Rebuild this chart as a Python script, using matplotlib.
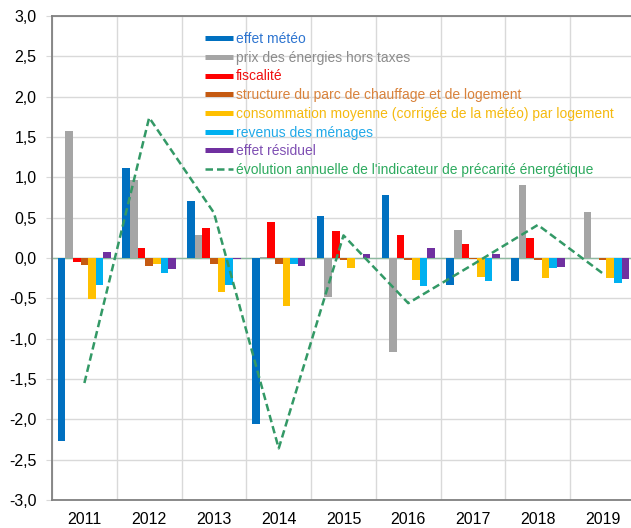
import matplotlib
matplotlib.use("Agg")
import matplotlib.pyplot as plt
from matplotlib.lines import Line2D
import numpy as np

plt.rcParams['font.family'] = ['Liberation Sans', 'DejaVu Sans']

years = ["2011", "2012", "2013", "2014", "2015", "2016", "2017", "2018", "2019"]

effet_meteo   = [-2.27, 1.11, 0.71, -2.06, 0.52, 0.78, -0.34, -0.29, 0.00]
prix_ht       = [1.57, 0.97, 0.28, 0.01, -0.48, -1.16, 0.35, 0.90, 0.57]
fiscalite     = [-0.05, 0.13, 0.37, 0.45, 0.34, 0.29, 0.17, 0.25, 0.00]
structure     = [-0.09, -0.10, -0.08, -0.07, -0.03, -0.02, -0.01, -0.02, -0.02]
consommation  = [-0.51, -0.08, -0.42, -0.60, -0.12, -0.27, -0.24, -0.25, -0.25]
revenus       = [-0.33, -0.19, -0.34, -0.07, 0.00, -0.35, -0.28, -0.13, -0.31]
residuel      = [0.08, -0.14, -0.01, -0.10, 0.05, 0.12, 0.05, -0.11, -0.26]
indicateur    = [-1.55, 1.74, 0.56, -2.36, 0.28, -0.56, -0.08, 0.41, -0.19]

labels = ["effet météo",
          "prix des énergies hors taxes",
          "fiscalité",
          "structure du parc de chauffage et de logement",
          "consommation moyenne (corrigée de la météo) par logement",
          "revenus des ménages",
          "effet résiduel",
          "évolution annuelle de l'indicateur de précarité énergétique"]

series = [effet_meteo, prix_ht, fiscalite, structure, consommation, revenus, residuel]
bar_colors = ['#0070C0', '#A5A5A5', '#FF0000', '#C55A11', '#FFC000', '#00B0F0', '#7030A0']
text_colors = ['#2E75D0', '#8C8C8C', '#F01010', '#D9823B', '#F5BA10', '#21A9E8', '#7F4FB3', '#2EAA5F']
line_color = '#339966'

fig = plt.figure(figsize=(6.31, 5.28), dpi=100)
ax = fig.add_axes([52/631, 28/528, 583/631, 484/528])

x = np.arange(len(years))
w = 0.118
for i, (vals, c) in enumerate(zip(series, bar_colors)):
    ax.bar(x + (i - 3) * w, vals, width=w, color=c, zorder=3)

ax.axhline(0, color='#8DB9A0', lw=1.0, zorder=2)
ax.plot(x, indicateur, color=line_color, lw=1.8, ls=(0, (3, 1.6)), zorder=4)

ax.set_xlim(-0.5, 8.5)
ax.set_ylim(-3, 3)
ax.set_yticks(np.arange(-3, 3.01, 0.5))
ax.set_yticklabels([f"{v:.1f}".replace('.', ',') for v in np.arange(-3, 3.01, 0.5)])
ax.set_xticks(x)
ax.set_xticklabels(years)
ax.set_xticks(np.arange(-0.5, 8.6, 1), minor=True)
ax.grid(True, axis='y', which='major', color='#D9D9D9', lw=1, zorder=0)
ax.grid(True, axis='x', which='minor', color='#D9D9D9', lw=1, zorder=0)
ax.tick_params(axis='x', which='both', length=0, labelsize=11.5, pad=9)
ax.tick_params(axis='y', length=4, color='#D9D9D9', labelsize=11.5, pad=7)
for s in ['left', 'top', 'bottom']:
    ax.spines[s].set_color('#808080')
    ax.spines[s].set_linewidth(1.3)
ax.spines['right'].set_visible(False)
ax.set_axisbelow(True)

handles = [Line2D([0], [0], color=c, lw=3.6, solid_capstyle='butt') for c in bar_colors]
handles.append(Line2D([0], [0], color=line_color, lw=1.8, ls=(0, (3, 1.6))))
leg = ax.legend(handles, labels, loc='upper left', bbox_to_anchor=(205/631, 1 - 32/528),
                bbox_transform=fig.transFigure, frameon=False, fontsize=10,
                handlelength=2.0, handletextpad=0.25, labelspacing=0.34,
                borderpad=0, borderaxespad=0)
for t, c in zip(leg.get_texts(), text_colors):
    t.set_color(c)

fig.savefig("out.png", dpi=100)
